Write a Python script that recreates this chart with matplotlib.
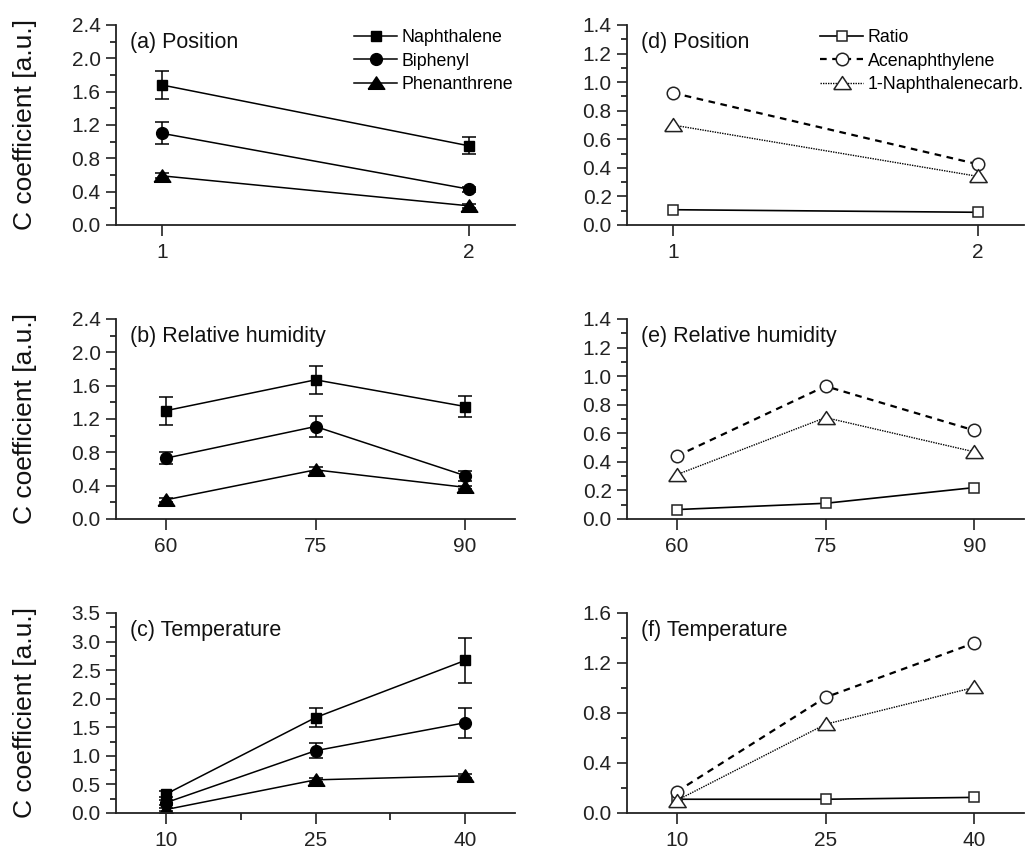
import matplotlib
matplotlib.use("Agg")
import matplotlib.pyplot as plt
from matplotlib.ticker import MultipleLocator, FixedLocator, FormatStrFormatter
from matplotlib.lines import Line2D

plt.rcParams['font.family'] = ['Liberation Sans', 'DejaVu Sans']

# ---------------- data ----------------
pos_x = [1, 2]
rh_x = [60, 75, 90]
temp_x = [10, 25, 40]

# left panels: Naphthalene, Biphenyl, Phenanthrene (value, error)
pos_naph = [1.68, 0.95]
pos_naph_err = [0.17, 0.10]
pos_biph = [1.10, 0.43]
pos_biph_err = [0.13, 0.03]
pos_phen = [0.59, 0.23]
pos_phen_err = [0.03, 0.02]

rh_naph = [1.30, 1.67, 1.35]
rh_naph_err = [0.17, 0.17, 0.13]
rh_biph = [0.73, 1.11, 0.52]
rh_biph_err = [0.07, 0.13, 0.06]
rh_phen = [0.23, 0.59, 0.38]
rh_phen_err = [0.02, 0.03, 0.02]

temp_naph = [0.33, 1.67, 2.67]
temp_naph_err = [0.05, 0.17, 0.39]
temp_biph = [0.18, 1.09, 1.58]
temp_biph_err = [0.04, 0.13, 0.26]
temp_phen = [0.06, 0.58, 0.65]
temp_phen_err = [0.02, 0.03, 0.04]

# right panels: Ratio, Acenaphthylene, 1-Naphthalenecarb.
pos_ratio = [0.107, 0.089]
pos_acen = [0.925, 0.425]
pos_ncarb = [0.70, 0.34]

rh_ratio = [0.066, 0.11, 0.22]
rh_acen = [0.44, 0.93, 0.62]
rh_ncarb = [0.31, 0.71, 0.47]

temp_ratio = [0.11, 0.11, 0.125]
temp_acen = [0.17, 0.925, 1.36]
temp_ncarb = [0.10, 0.71, 1.005]

left_names = ['Naphthalene', 'Biphenyl', 'Phenanthrene']
right_names = ['Ratio', 'Acenaphthylene', '1-Naphthalenecarb.']
titles = ['(a) Position', '(b) Relative humidity', '(c) Temperature',
          '(d) Position', '(e) Relative humidity', '(f) Temperature']
ylabel = 'C coefficient [a.u.]'

# ---------------- figure ----------------
W, H = 1025, 850
fig = plt.figure(figsize=(W / 100, H / 100), dpi=100)

def px_axes(l, r, t, b):
    return fig.add_axes([l / W, 1 - b / H, (r - l) / W, (b - t) / H])

rows = [(25, 225), (319, 519), (613, 813)]
ax_left = [px_axes(116, 515, t, b) for t, b in rows]
ax_right = [px_axes(627, 1024, t, b) for t, b in rows]

tri = [(-1, -0.7), (1, -0.7), (0, 0.8), (-1, -0.7)]

def style(ax, xlim, xticks, ylim, ymaj, ymin, xminor=None):
    ax.set_xlim(*xlim)
    ax.set_ylim(*ylim)
    ax.set_xticks(xticks)
    ax.set_xticklabels([str(v) for v in xticks])
    ax.yaxis.set_major_locator(MultipleLocator(ymaj))
    ax.yaxis.set_minor_locator(MultipleLocator(ymin))
    if xminor is not None:
        ax.xaxis.set_minor_locator(FixedLocator(xminor))
    for s in ['top', 'right']:
        ax.spines[s].set_visible(False)
    for s in ['left', 'bottom']:
        ax.spines[s].set_linewidth(1.3)
        ax.spines[s].set_color('#222222')
    ax.tick_params(axis='both', which='major', direction='out', length=7,
                   width=1.2, labelsize=15, colors='#222222', pad=4)
    ax.tick_params(axis='y', which='minor', direction='out', length=4, width=1.1)
    ax.tick_params(axis='x', which='minor', direction='out', length=5, width=1.1)
    ax.tick_params(axis='x', which='major', length=8, pad=5)
    ax.yaxis.set_major_formatter(FormatStrFormatter('%.1f'))

left_data = [
    (pos_x, [(pos_naph, pos_naph_err), (pos_biph, pos_biph_err), (pos_phen, pos_phen_err)]),
    (rh_x, [(rh_naph, rh_naph_err), (rh_biph, rh_biph_err), (rh_phen, rh_phen_err)]),
    (temp_x, [(temp_naph, temp_naph_err), (temp_biph, temp_biph_err), (temp_phen, temp_phen_err)]),
]
right_data = [
    (pos_x, [pos_ratio, pos_acen, pos_ncarb]),
    (rh_x, [rh_ratio, rh_acen, rh_ncarb]),
    (temp_x, [temp_ratio, temp_acen, temp_ncarb]),
]

left_markers = [('s', 7.5), ('o', 8.5), (tri, 12)]
for i, ax in enumerate(ax_left):
    xs, series = left_data[i]
    for (vals, errs), (mk, ms) in zip(series, left_markers):
        ax.errorbar(xs, vals, yerr=errs, color='black', lw=1.1, marker=mk,
                    ms=ms, mfc='black', mec='black', capsize=5, capthick=1.1,
                    elinewidth=1.1)

right_styles = [
    dict(marker='s', ms=7.5, ls='-', lw=1.2),
    dict(marker='o', ms=9, ls=(0, (3, 2.5)), lw=1.6),
    dict(marker=tri, ms=12.5, ls=(0, (1, 0.8)), lw=1.0),
]
for i, ax in enumerate(ax_right):
    xs, series = right_data[i]
    for vals, st in zip(series, right_styles):
        ax.plot(xs, vals, color='black', mfc='white', mec='#222222', mew=1.1, **st)

style(ax_left[0], (0.85, 2.15), pos_x, (0, 2.4), 0.4, 0.2)
style(ax_left[1], (55, 95), rh_x, (0, 2.4), 0.4, 0.2)
style(ax_left[2], (5, 45), temp_x, (0, 3.5), 0.5, 0.25, xminor=[17.5, 32.5])
style(ax_right[0], (0.85, 2.15), pos_x, (0, 1.4), 0.2, 0.1)
style(ax_right[1], (55, 95), rh_x, (0, 1.4), 0.2, 0.1)
style(ax_right[2], (5, 45), temp_x, (0, 1.6), 0.4, 0.2)

for ax, t in zip(ax_left + ax_right, titles):
    ax.text(0.035, 0.965, t, transform=ax.transAxes, ha='left', va='top',
            fontsize=15.5, color='#111111')

for ax, (t, b) in zip(ax_left, rows):
    fig.text(25 / W, 1 - (t + b) / 2 / H, ylabel, rotation=90, ha='center',
             va='center', fontsize=19, color='#111111')

left_handles = [Line2D([], [], color='black', lw=1.1, marker=mk, ms=ms,
                       mfc='black', mec='black')
                for mk, ms in left_markers]
right_handles = [Line2D([], [], color='black', mfc='white', mec='#222222',
                        mew=1.1, **st) for st in right_styles]

leg_kw = dict(frameon=False, fontsize=12.8, handlelength=2.4, handletextpad=0.25,
              labelspacing=0.35, borderaxespad=0.0, borderpad=0.0,
              loc='upper right')
ax_left[0].legend(left_handles, left_names, bbox_to_anchor=(0.995, 0.978), **leg_kw)
ax_right[0].legend(right_handles, right_names, bbox_to_anchor=(0.999, 0.978), **leg_kw)

fig.savefig('out.png', dpi=100)
